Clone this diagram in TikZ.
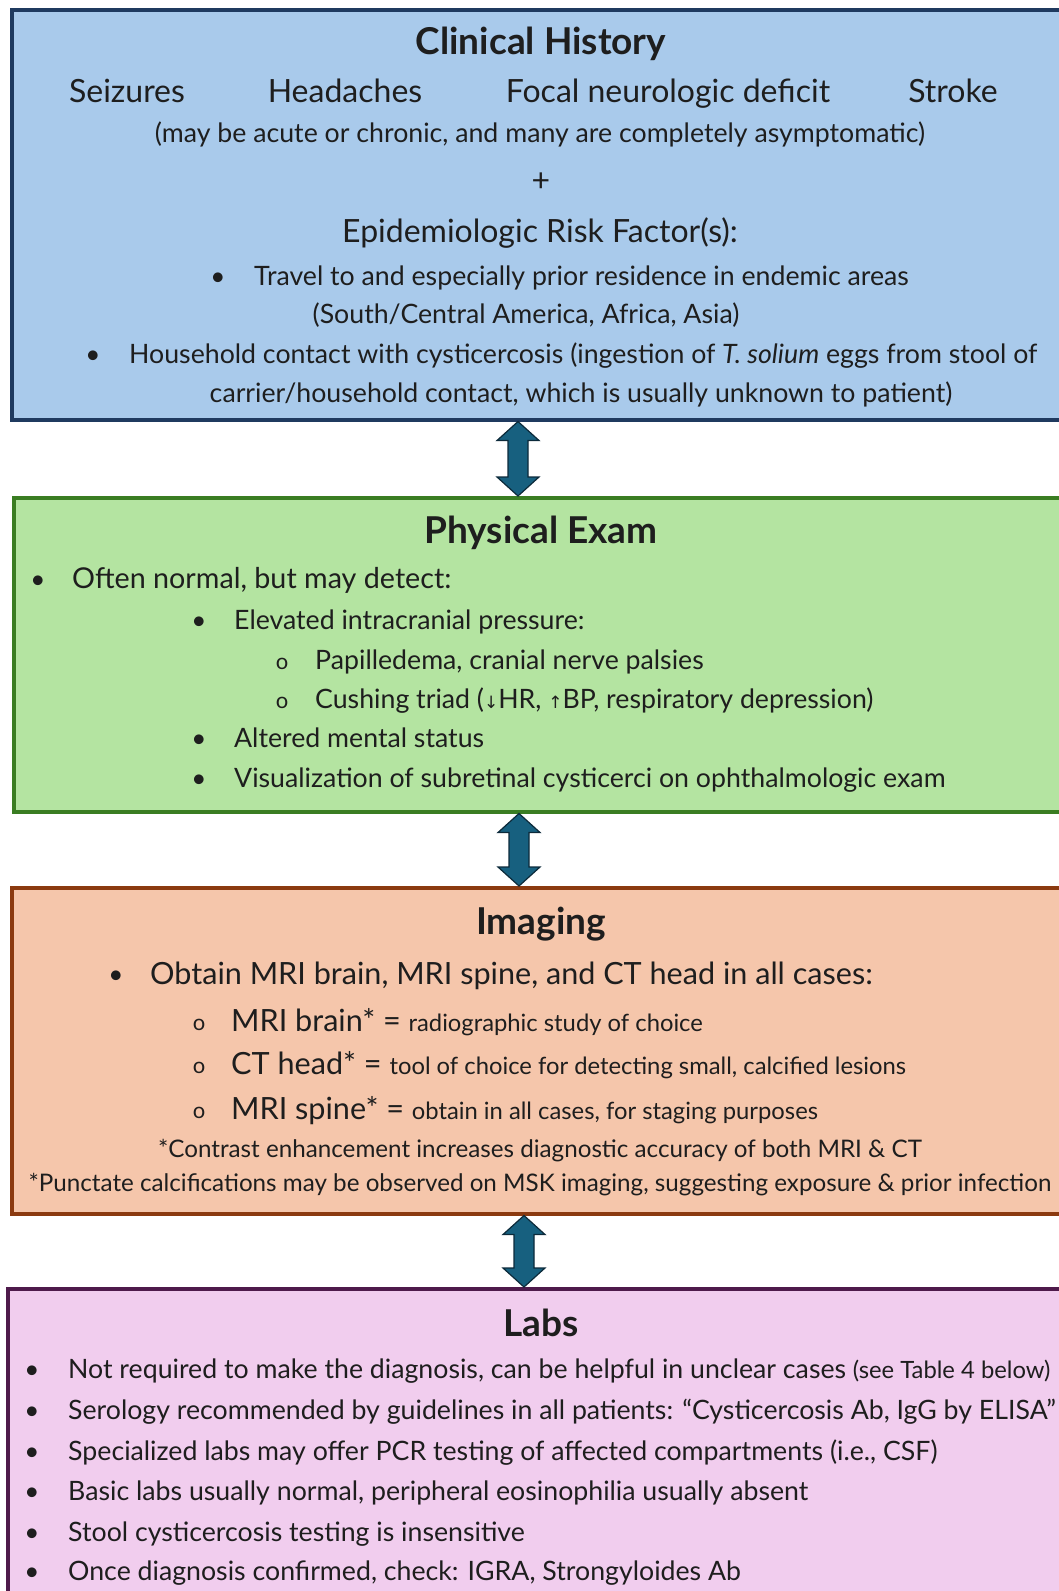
\documentclass[tikz,border=0pt]{standalone}
\usepackage{fontspec}
\setmainfont{Lato}
\newfontfamily\symf{DejaVu Sans}
\usetikzlibrary{calc}
\definecolor{ink}{HTML}{1E1E1E}
\definecolor{bAfill}{HTML}{A9CAEB}
\definecolor{bAline}{HTML}{1F3A5F}
\definecolor{bBfill}{HTML}{B4E4A1}
\definecolor{bBline}{HTML}{3A7D22}
\definecolor{bCfill}{HTML}{F5C6AB}
\definecolor{bCline}{HTML}{8B3A10}
\definecolor{bDfill}{HTML}{F1CDEE}
\definecolor{bDline}{HTML}{4E1A4B}
\definecolor{arrfill}{HTML}{17607F}
\definecolor{arrline}{HTML}{0C2A3A}
\newcommand\fsz[1]{\fontsize{#1}{#1}\selectfont}
\newcommand\dblarr[2]{%
  \path[dbl] let \p1=(#1), \p2=(#2) in
    (\x1,\y1) -- (\x1+21pt,\y1-19pt) -- (\x1+10pt,\y1-19pt) -- (\x1+10pt,\y2+19pt)
    -- (\x1+21pt,\y2+19pt) -- (\x1,\y2) -- (\x1-21pt,\y2+19pt) -- (\x1-10pt,\y2+19pt)
    -- (\x1-10pt,\y1-19pt) -- (\x1-21pt,\y1-19pt) -- cycle;}
\tikzset{
  every node/.style={inner sep=0pt, text=ink},
  panel/.style={rectangle, line width=3.5pt, anchor=north west, minimum width=1120pt},
  ttl/.style={font=\bfseries\fsz{37}, text height=26.6pt, text depth=8.1pt},
  ct/.style={font=\fsz{26.7}, text height=19.2pt, text depth=5.9pt},
  big/.style={font=\fsz{32}, text height=23pt, text depth=7pt},
  bt/.style={ct, anchor=west},
  btbig/.style={font=\fsz{28.7}, text height=20.7pt, text depth=6.3pt, anchor=west},
  btlarge/.style={font=\fsz{30.6}, text height=22pt, text depth=6.7pt, anchor=west},
  bul/.style={font=\fsz{26}, text height=19.2pt, text depth=5.9pt},
  circ/.style={font=\fsz{22}, text height=19.2pt, text depth=5.9pt},
  note/.style={font=\fsz{24.2}, text height=17.4pt, text depth=5.3pt},
  dbl/.style={fill=arrfill, draw=arrline, line width=1.2pt, line join=miter},
}
\newcommand\sm[1]{{\fsz{23.8}#1}}
\begin{document}
\begin{tikzpicture}[x=1pt,y=-1pt]
\useasboundingbox (0,0) rectangle (1059,1591);
\clip (0,0) rectangle (1059,1591);
% panels
\node[panel, draw=bAline, fill=bAfill, minimum height=410pt] (hist) at (10,8) {};
\node[panel, draw=bBline, fill=bBfill, minimum height=314pt] (phys) at (12,496) {};
\node[panel, draw=bCline, fill=bCfill, minimum height=326pt] (imag) at (10,886) {};
\node[panel, draw=bDline, fill=bDfill, minimum height=340pt] (labs) at (6,1287) {};
% arrow columns
\coordinate (axA) at (518,0);
\coordinate (axB) at (519,0);
\coordinate (axC) at (524,0);
\dblarr{hist.south west -| axA}{phys.north west -| axA}
\dblarr{phys.south west -| axB}{imag.north west -| axB}
\dblarr{imag.south west -| axC}{labs.north west -| axC}
\begin{scope}[yshift=-3.5pt]
% Clinical history
\node[ttl] (h0) at (541,42) {Clinical History};
\node[big] (h1) at (127,91) {Seizures};
\node[big] (h2) at (345,91) {Headaches};
\node[big] (h3) at (668,91) {Focal neurologic deficit};
\node[big] (h4) at (953,91) {Stroke};
\node[ct] (h5) at (540,132) {(may be acute or chronic, and many are completely asymptomatic)};
\node[big] (h6) at (541,180) {+};
\node[big] (h7) at (540,231) {Epidemiologic Risk Factor(s):};
\node[bul] (h8b) at (218,275) {\textbullet};
\node[bt] (h8) at (254,275) {Travel to and especially prior residence in endemic areas};
\node[ct] (h9) at (526,313) {(South/Central America, Africa, Asia)};
\node[bul] (h10b) at (93,353) {\textbullet};
\node[bt] (h10) at (129,353) {Household contact with cysticercosis (ingestion of \textit{T. solium} eggs from stool of};
\node[ct] (h11) at (581,392) {carrier/household contact, which is usually unknown to patient)};
% Physical exam
\node[ttl] (p0) at (541,531) {Physical Exam};
\node[bul] (p1b) at (38,578) {\textbullet};
\node[btbig] (p1) at (72,578) {Often normal, but may detect:};
\node[bul] (p2b) at (199,619) {\textbullet};
\node[bt] (p2) at (234,619) {Elevated intracranial pressure:};
\node[circ] (p3b) at (282,659) {o};
\node[bt] (p3) at (315,659) {Papilledema, cranial nerve palsies};
\node[circ] (p4b) at (282,698) {o};
\node[bt] (p4) at (315,698) {Cushing triad ({\symf\fsz{17}↓}HR, {\symf\fsz{17}↑}BP, respiratory depression)};
\node[bul] (p5b) at (199,737) {\textbullet};
\node[bt] (p5) at (234,737) {Altered mental status};
\node[bul] (p6b) at (199,777) {\textbullet};
\node[bt] (p6) at (234,777) {Visualization of subretinal cysticerci on ophthalmologic exam};
% Imaging
\node[ttl] (i0) at (541,922) {Imaging};
\node[bul] (i1b) at (116,973) {\textbullet};
\node[btlarge] (i1) at (150,973) {Obtain MRI brain, MRI spine, and CT head in all cases:};
\node[circ] (i2b) at (199,1020) {o};
\node[btlarge] (i2) at (231,1020) {MRI brain* = \sm{radiographic study of choice}};
\node[circ] (i3b) at (199,1063) {o};
\node[btlarge] (i3) at (231,1063) {CT head* = \sm{tool of choice for detecting small, calcified lesions}};
\node[circ] (i4b) at (199,1108) {o};
\node[btlarge] (i4) at (231,1108) {MRI spine* = \sm{obtain in all cases, for staging purposes}};
\node[note] (i5) at (540,1148) {*Contrast enhancement increases diagnostic accuracy of both MRI \& CT};
\node[note] (i6) at (540,1182) {*Punctate calcifications may be observed on MSK imaging, suggesting exposure \& prior infection};
% Labs
\node[ttl] (l0) at (541,1324) {Labs};
\node[bul] (l1b) at (32,1368) {\textbullet};
\node[bt] (l1) at (68,1368) {Not required to make the diagnosis, can be helpful in unclear cases \sm{(see Table 4 below)}};
\node[bul] (l2b) at (32,1409) {\textbullet};
\node[bt] (l2) at (68,1409) {Serology recommended by guidelines in all patients: “Cysticercosis Ab, IgG by ELISA”};
\node[bul] (l3b) at (32,1450) {\textbullet};
\node[bt] (l3) at (68,1450) {Specialized labs may offer PCR testing of affected compartments (i.e., CSF)};
\node[bul] (l4b) at (32,1490) {\textbullet};
\node[bt] (l4) at (68,1490) {Basic labs usually normal, peripheral eosinophilia usually absent};
\node[bul] (l5b) at (32,1531) {\textbullet};
\node[bt] (l5) at (68,1531) {Stool cysticercosis testing is insensitive};
\node[bul] (l6b) at (32,1570) {\textbullet};
\node[bt] (l6) at (68,1570) {Once diagnosis confirmed, check: IGRA, Strongyloides Ab};
\end{scope}
\end{tikzpicture}
\end{document}
